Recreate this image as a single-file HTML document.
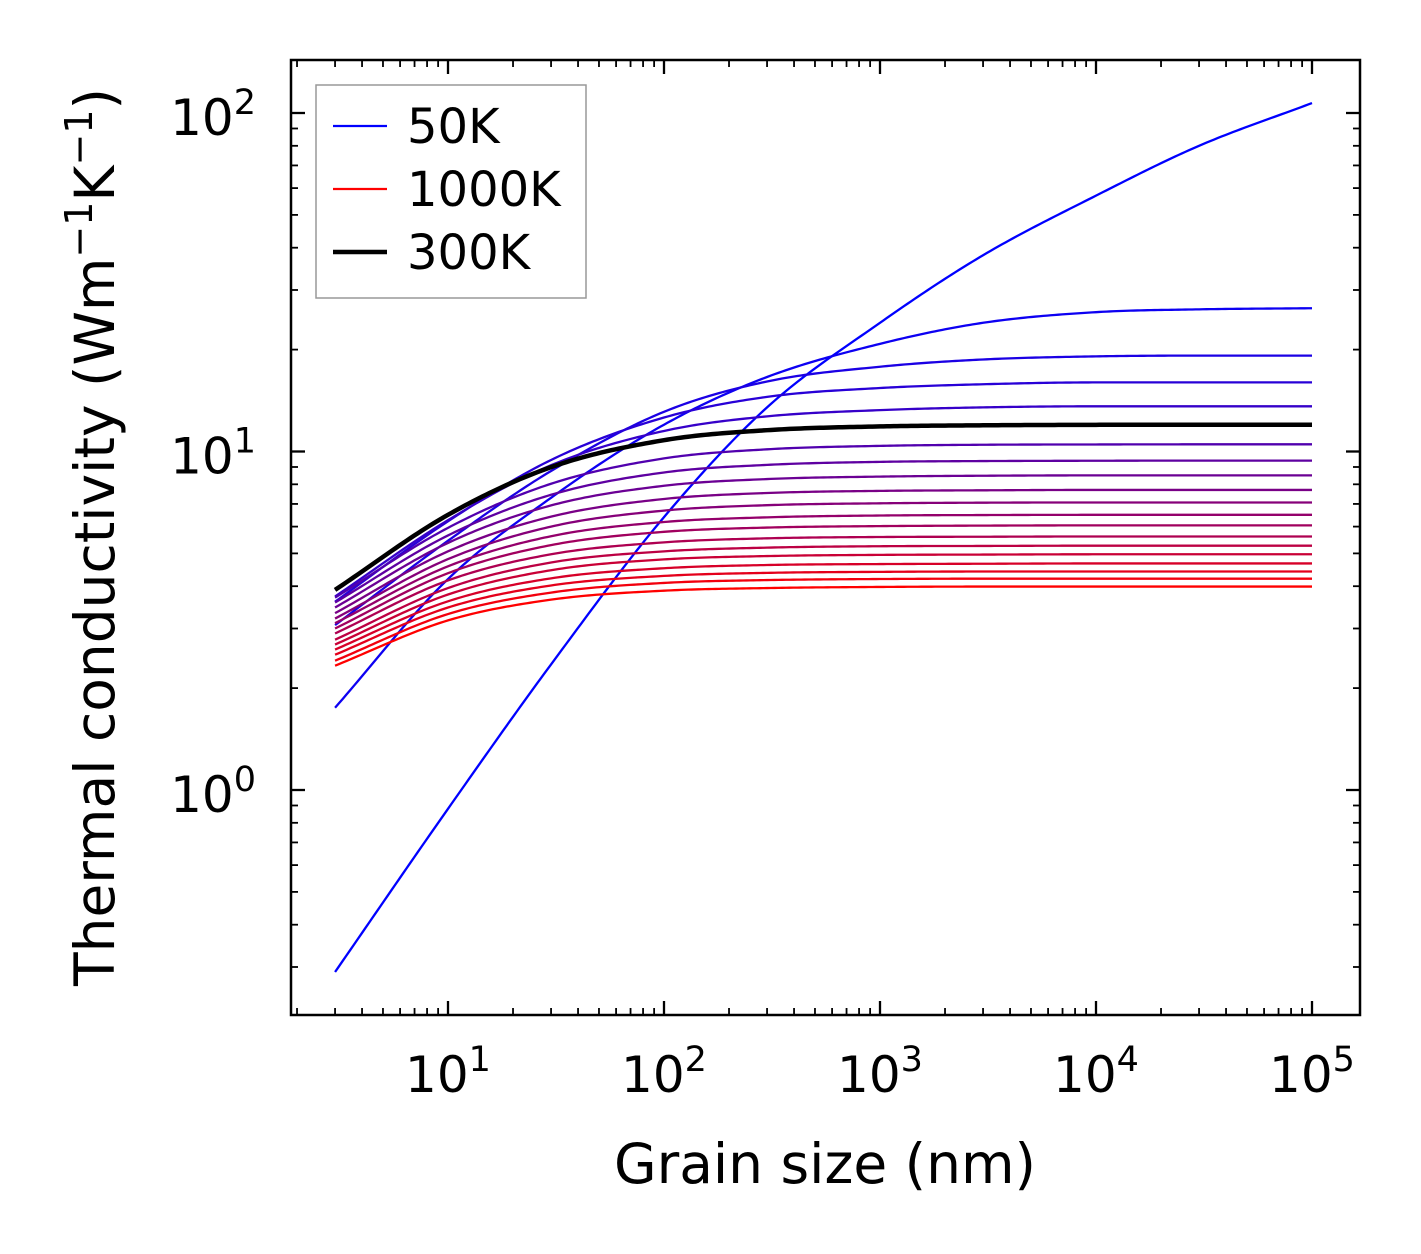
<!DOCTYPE html>
<html><head><meta charset="utf-8"><style>
html,body{margin:0;padding:0;background:#fff}
svg{display:block;font-family:"DejaVu Sans","Liberation Sans",sans-serif}
</style></head><body>
<svg id="chart" width="1421" height="1254" viewBox="0 0 1421 1254" xmlns="http://www.w3.org/2000/svg">
<rect width="1421" height="1254" fill="#fff"/>
<g id="series"></g>
<g id="ticks"></g>
<rect x="291" y="60" width="1069" height="955" fill="none" stroke="#000" stroke-width="2.5"/>
<text x="825" y="1183" font-size="55" text-anchor="middle">Grain size (nm)</text>
<text transform="translate(114,537) rotate(-90)" font-size="55" text-anchor="middle">Thermal conductivity (Wm<tspan dy="-22" font-size="38">−1</tspan><tspan dy="22">K</tspan><tspan dy="-22" font-size="38">−1</tspan><tspan dy="22">)</tspan></text>
<g>
<rect x="316" y="85" width="270" height="213" fill="#fff" stroke="#999" stroke-width="1.5"/>
<line x1="333" y1="126" x2="387" y2="126" stroke="#0000ff" stroke-width="2.3"/>
<text x="407" y="143" font-size="48">50K</text>
<line x1="333" y1="189" x2="387" y2="189" stroke="#ff0000" stroke-width="2.3"/>
<text x="407" y="206" font-size="48">1000K</text>
<line x1="333" y1="252" x2="387" y2="252" stroke="#000" stroke-width="4.5"/>
<text x="407" y="269" font-size="48">300K</text>
</g>
</svg>
<script>
const grainSizes = [3,10,30,100,300,1000,3000,10000,30000,100000];
const temperatures = [50,100,150,200,250,300,350,400,450,500,550,600,650,700,750,800,850,900,950,1000];
const k50 = [0.29,0.88,2.35,6.4,13.5,24,38,57,80,107];
const k100 = [1.75,4.2,7.3,12.0,16.6,20.8,24,25.8,26.3,26.5];
const k150 = [3.07,5.45,8.76,13.1,16.1,17.8,18.7,19.1,19.2,19.2];
const k200 = [3.6,6.22,9.44,12.6,14.5,15.4,15.8,16.0,16.0,16.0];
const k250 = [3.73,6.27,9.11,11.5,12.7,13.25,13.5,13.6,13.6,13.6];
const k300 = [3.9,6.5,8.99,10.8,11.56,11.86,11.95,11.99,12,12];
const k350 = [3.7,5.95,8.03,9.54,10.15,10.39,10.47,10.49,10.5,10.5];
const k400 = [3.58,5.65,7.45,8.67,9.13,9.32,9.37,9.39,9.4,9.4];
const k450 = [3.46,5.37,6.93,7.92,8.29,8.43,8.48,8.5,8.5,8.5];
const k500 = [3.33,5.07,6.42,7.24,7.54,7.65,7.68,7.7,7.7,7.7];
const k550 = [3.21,4.81,6.0,6.69,6.94,7.03,7.06,7.07,7.07,7.07];
const k600 = [3.11,4.58,5.62,6.19,6.39,6.47,6.49,6.5,6.5,6.5];
const k650 = [3.0,4.37,5.29,5.79,5.96,6.02,6.04,6.05,6.05,6.05];
const k700 = [2.9,4.16,4.97,5.39,5.54,5.59,5.6,5.61,5.61,5.61];
const k750 = [2.78,3.95,4.7,5.07,5.2,5.25,5.26,5.27,5.27,5.27];
const k800 = [2.69,3.78,4.46,4.8,4.91,4.95,4.96,4.97,4.97,4.97];
const k850 = [2.6,3.61,4.22,4.52,4.62,4.65,4.66,4.67,4.67,4.67];
const k900 = [2.51,3.46,4.02,4.29,4.38,4.41,4.42,4.42,4.42,4.42];
const k950 = [2.41,3.31,3.83,4.09,4.17,4.2,4.21,4.21,4.21,4.21];
const k1000 = [2.33,3.17,3.65,3.88,3.95,3.98,3.99,3.99,3.99,3.99];
const kBlack300 = [3.9,6.5,8.99,10.8,11.56,11.86,11.95,11.99,12,12];
const xTickLabels = ["1","2","3","4","5"];
const yTickLabels = ["0","1","2"];

const series = [k50,k100,k150,k200,k250,k300,k350,k400,k450,k500,k550,k600,k650,k700,k750,k800,k850,k900,k950,k1000];
const NS = "http://www.w3.org/2000/svg";
function xs(v){ return 448 + (Math.log10(v) - 1) * 216; }
function ys(v){ return 790 - Math.log10(v) * 338.5; }

function pathFor(vals){
  const X = grainSizes.map(g=>Math.log10(g));
  const Y = vals.map(v=>Math.log10(v));
  const n = X.length;
  const d = [], m = [];
  for (let i=0;i<n-1;i++) d.push((Y[i+1]-Y[i])/(X[i+1]-X[i]));
  m.push(d[0]);
  for (let i=1;i<n-1;i++){
    if (d[i-1]*d[i] <= 0) m.push(0);
    else m.push((d[i-1]+d[i])/2);
  }
  m.push(d[n-2]);
  let s = "";
  for (let i=0;i<n-1;i++){
    const h = X[i+1]-X[i];
    const steps = 30;
    for (let k=(i===0?0:1);k<=steps;k++){
      const t = k/steps;
      const h00=2*t*t*t-3*t*t+1, h10=t*t*t-2*t*t+t, h01=-2*t*t*t+3*t*t, h11=t*t*t-t*t;
      const x = X[i]+t*h;
      const y = h00*Y[i]+h10*h*m[i]+h01*Y[i+1]+h11*h*m[i+1];
      const px = xs(Math.pow(10,x)), py = ys(Math.pow(10,y));
      s += (s===""?"M":" L") + px.toFixed(2) + "," + py.toFixed(2);
    }
  }
  return s;
}
const sg = document.getElementById("series");
series.forEach((vals,i)=>{
  const t = i/(series.length-1);
  const p = document.createElementNS(NS,"path");
  p.setAttribute("d", pathFor(vals));
  p.setAttribute("fill","none");
  p.setAttribute("stroke","rgb("+Math.round(255*t)+",0,"+Math.round(255*(1-t))+")");
  p.setAttribute("stroke-width","2.3");
  
  
  sg.appendChild(p);
});
const bp = document.createElementNS(NS,"path");
bp.setAttribute("d", pathFor(kBlack300));
bp.setAttribute("fill","none");
bp.setAttribute("stroke","#000");
bp.setAttribute("stroke-width","4.5");


sg.appendChild(bp);

const tg = document.getElementById("ticks");
function line(x1,y1,x2,y2,w){
  const l = document.createElementNS(NS,"line");
  l.setAttribute("x1",x1);l.setAttribute("y1",y1);l.setAttribute("x2",x2);l.setAttribute("y2",y2);
  l.setAttribute("stroke","#000");l.setAttribute("stroke-width",w);
  
  
  tg.appendChild(l);
}
for (let e=0;e<=5;e++){
  for (let mm=1;mm<10;mm++){
    const v = mm*Math.pow(10,e);
    const x = xs(v);
    if (x<292||x>1359) continue;
    const len = mm===1?14:7;
    line(x,1015,x,1015-len,mm===1?2.3:1.8);
    line(x,60,x,60+len,mm===1?2.3:1.8);
  }
}
for (let e=-1;e<=2;e++){
  for (let mm=1;mm<10;mm++){
    const v = mm*Math.pow(10,e);
    const y = ys(v);
    if (y<61||y>1014) continue;
    const len = mm===1?14:7;
    line(291,y,291+len,y,mm===1?2.3:1.8);
    line(1360,y,1360-len,y,mm===1?2.3:1.8);
  }
}
xTickLabels.forEach((lab)=>{
  const e = Number(lab);
  const t = document.createElementNS(NS,"text");
  t.setAttribute("x", xs(Math.pow(10,e)));
  t.setAttribute("y", 1092);
  t.setAttribute("font-size","50");
  t.setAttribute("text-anchor","middle");
  t.innerHTML = '10<tspan dy="-21" font-size="35">'+lab+'</tspan>';
  
  
  tg.appendChild(t);
});
yTickLabels.forEach((lab)=>{
  const e = Number(lab);
  const t = document.createElementNS(NS,"text");
  t.setAttribute("x", 256);
  t.setAttribute("y", ys(Math.pow(10,e)) + 22);
  t.setAttribute("font-size","50");
  t.setAttribute("text-anchor","end");
  t.innerHTML = '10<tspan dy="-21" font-size="35">'+lab+'</tspan>';
  
  
  tg.appendChild(t);
});
</script>
</body></html>
